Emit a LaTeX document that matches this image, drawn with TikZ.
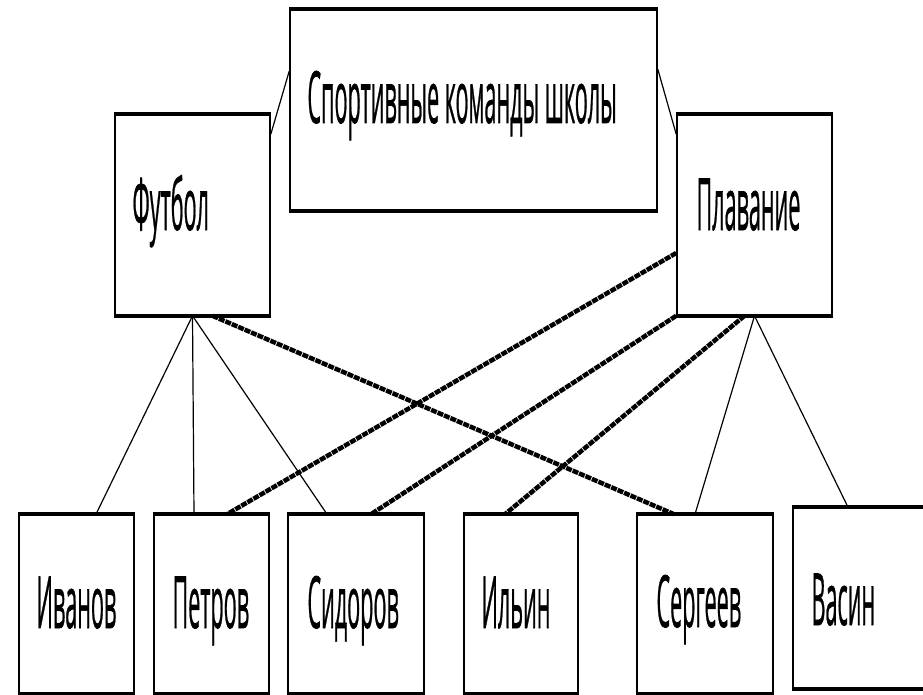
\documentclass[tikz,border=0pt]{standalone}
\usepackage{fontspec}
\usepackage{graphicx}
\setmainfont{Open Sans}[FakeBold=1]
\newcommand{\cond}[1]{\scalebox{0.30}[1]{\fontsize{72}{72}\selectfont #1}}

\tikzset{every picture/.style={line width=1pt}}
\tikzset{
  box/.style={draw, line width=1.6pt, inner sep=0pt},
  link/.style={line width=1.2pt},
  hatch/.style={line width=4.5pt, dash pattern=on 6pt off 1pt},
  lbl/.style={anchor=base west, inner sep=0pt}
}

\begin{document}
\begin{tikzpicture}[x=1pt,y=1pt,yscale=-1,xscale=1]
    \useasboundingbox (0,0) rectangle (923,695);

    %Shape: Rectangle [id:title]
    \node[box, minimum width=367pt, minimum height=200pt] (title) at (473.5,110) {};
    %Shape: Rectangle [id:futbol]
    \node[box, minimum width=155pt, minimum height=200pt] (futbol) at (192.5,215) {};
    %Shape: Rectangle [id:plavanie]
    \node[box, minimum width=155pt, minimum height=200pt] (plavanie) at (754.5,215) {};

    %Shape: Rectangle [id:ivanov]
    \node[box, minimum width=115pt, minimum height=178pt] (ivanov) at (76.5,604) {};
    %Shape: Rectangle [id:petrov]
    \node[box, minimum width=115pt, minimum height=178pt] (petrov) at (211.5,604) {};
    %Shape: Rectangle [id:sidorov]
    \node[box, minimum width=136pt, minimum height=178pt] (sidorov) at (356,604) {};
    %Shape: Rectangle [id:ilyin]
    \node[box, minimum width=114pt, minimum height=178pt] (ilyin) at (521,604) {};
    %Shape: Rectangle [id:sergeev]
    \node[box, minimum width=136pt, minimum height=178pt] (sergeev) at (705,604) {};
    %Shape: Rectangle [id:vasin]
    \node[box, minimum width=152pt, minimum height=180pt] (vasin) at (869,598) {};

    % heavy top and bottom edges
    \foreach \n in {title,futbol,plavanie,ivanov,petrov,sidorov,ilyin,sergeev,vasin}{
      \draw[line width=3.5pt] (\n.north west) -- (\n.north east);
      \draw[line width=3.5pt] (\n.south west) -- (\n.south east);
    }

    % Text Node
    \draw (307,123) node [lbl] (titletext) {\cond{Спортивные команды школы}};
    % Text Node
    \draw (132,230) node [lbl] (futboltext) {\cond{Футбол}};
    % Text Node
    \draw (696,230) node [lbl] (plavanietext) {\cond{Плавание}};
    % Text Node
    \draw (36,628) node [lbl] (ivanovtext) {\cond{Иванов}};
    % Text Node
    \draw (172,628) node [lbl] (petrovtext) {\cond{Петров}};
    % Text Node
    \draw (307,628) node [lbl] (sidorovtext) {\cond{Сидоров}};
    % Text Node
    \draw (481,628) node [lbl] (ilyintext) {\cond{Ильин}};
    % Text Node
    \draw (656,627) node [lbl] (sergeevtext) {\cond{Сергеев}};
    % Text Node
    \draw (811,625) node [lbl] (vasintext) {\cond{Васин}};

    %Straight Lines
    \draw[link] ([yshift=62pt]title.north west) -- ([yshift=20pt]futbol.north east);
    \draw[link] ([yshift=60pt]title.north east) -- ([yshift=20pt]plavanie.north west);

    \draw[link] (futbol.south) -- ([xshift=19.5pt]ivanov.north);
    \draw[link] (futbol.south) -- ([xshift=-17.5pt]petrov.north);
    \draw[link] (futbol.south) -- ([xshift=-29pt]sidorov.north);
    \draw[link] (plavanie.south) -- ([xshift=-10pt]sergeev.north);
    \draw[link] (plavanie.south) -- ([xshift=-21pt]vasin.north);

    %Hatched Lines
    \draw[hatch] ([xshift=20pt]futbol.south) -- ([xshift=-31pt]sergeev.north);
    \draw[hatch] ([yshift=38pt]plavanie.west) -- ([xshift=15.5pt]petrov.north);
    \draw[hatch] (plavanie.south west) -- ([xshift=15pt]sidorov.north);
    \draw[hatch] ([xshift=-10pt]plavanie.south) -- ([xshift=-16pt]ilyin.north);

\end{tikzpicture}
\end{document}
